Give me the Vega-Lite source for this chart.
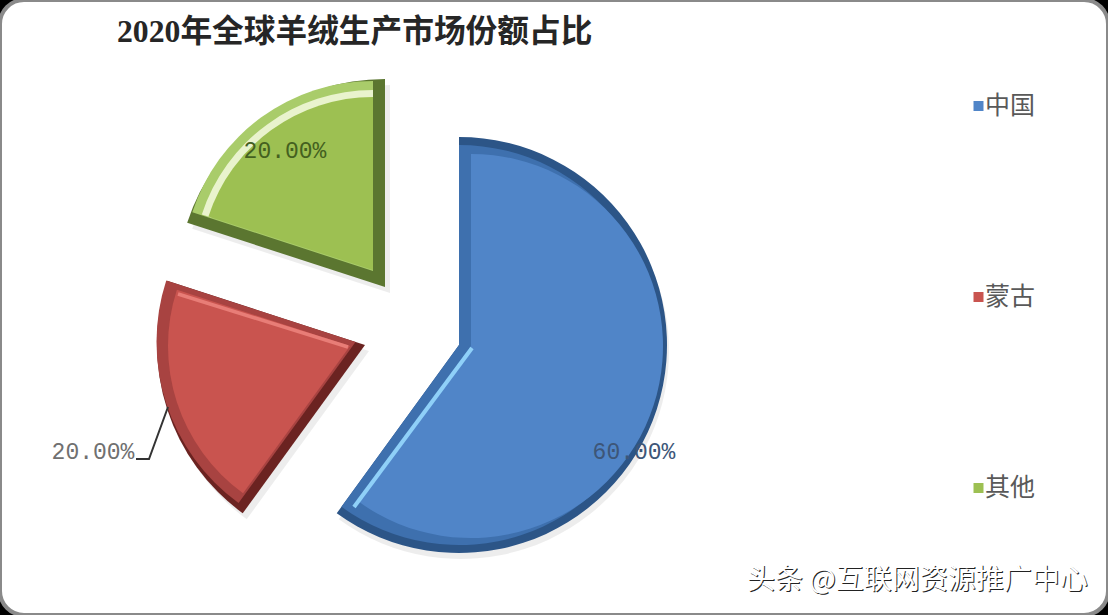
{
  "$schema": "https://vega.github.io/schema/vega-lite/v6.json",
  "width": 1108,
  "height": 615,
  "padding": 0,
  "autosize": "none",
  "background": "#000000",
  "view": {"fill": "#ffffff", "cornerRadius": 24, "stroke": "#8a8a8a", "strokeWidth": 4},
  "title": {
    "text": "2020年全球羊绒生产市场份额占比",
    "anchor": "start",
    "frame": "group",
    "dx": 117,
    "offset": -49,
    "font": "Liberation Serif, Noto Sans CJK SC",
    "fontSize": 31.7,
    "fontWeight": "bold",
    "color": "#262626"
  },
  "layer": [
    {
      "data": {
        "values": [
          {"country": "中国", "share": 60, "label": "60.00%", "order": 1},
          {"country": "蒙古", "share": 20, "label": "20.00%", "order": 2},
          {"country": "其他", "share": 20, "label": "20.00%", "order": 3}
        ]
      },
      "transform": [
        {"stack": "share", "sort": [{"field": "order"}], "groupby": [], "as": ["a0", "a1"]}
      ],
      "resolve": {"scale": {"x": "independent", "y": "independent", "color": "independent", "radius": "independent", "theta": "independent"}},
      "layer": [
        {
          "mark": {"type": "arc", "outerRadius": 208, "color": "#000000", "opacity": 0.07},
          "encoding": {
            "x": {"field": "order", "type": "quantitative", "axis": null, "scale": {"domain": [1, 2, 3], "range": [461, 369, 390]}},
            "y": {"field": "order", "type": "quantitative", "axis": null, "scale": {"domain": [1, 2, 3], "range": [351, 351, 293]}},
            "theta": {"field": "a0", "type": "quantitative", "scale": {"domain": [0, 100], "range": [0, 6.2832]}},
            "theta2": {"field": "a1"}
          }
        },
        {
          "mark": {"type": "arc", "outerRadius": 208},
          "encoding": {
            "x": {"field": "order", "type": "quantitative", "axis": null, "scale": {"domain": [1, 2, 3], "range": [459, 365, 385]}},
            "y": {"field": "order", "type": "quantitative", "axis": null, "scale": {"domain": [1, 2, 3], "range": [345, 345, 287]}},
            "theta": {"field": "a0", "type": "quantitative", "scale": {"domain": [0, 100], "range": [0, 6.2832]}},
            "theta2": {"field": "a1"},
            "color": {"field": "country", "type": "nominal", "legend": null, "scale": {"domain": ["中国", "蒙古", "其他"], "range": ["#2c5587", "#6b2321", "#5b7630"]}}
          }
        },
        {
          "mark": {"type": "arc", "innerRadius": 0},
          "encoding": {
            "x": {"field": "order", "type": "quantitative", "axis": null, "scale": {"domain": [1, 2, 3], "range": [459, 355.5, 373]}},
            "y": {"field": "order", "type": "quantitative", "axis": null, "scale": {"domain": [1, 2, 3], "range": [345, 342, 271]}},
            "theta": {"field": "a0", "type": "quantitative", "scale": {"domain": [0, 100], "range": [0, 6.2832]}},
            "theta2": {"field": "a1"},
            "radius": {"field": "order", "type": "quantitative", "stack": null, "scale": {"type": "linear", "zero": false, "domain": [1, 2, 3], "range": [200, 199, 190]}},
            "color": {"field": "country", "type": "nominal", "legend": null, "scale": {"domain": ["中国", "蒙古", "其他"], "range": ["#3e70ae", "#a84341", "#a9cc6a"]}}
          }
        },
        {
          "transform": [{"filter": "datum.order == 3"}],
          "mark": {"type": "arc", "radius": 180, "radius2": 170, "color": "#e9f3cd"},
          "encoding": {
            "x": {"field": "order", "type": "quantitative", "axis": null, "scale": {"domain": [2, 3], "range": [300, 373]}},
            "y": {"field": "order", "type": "quantitative", "axis": null, "scale": {"domain": [2, 3], "range": [200, 270]}},
            "theta": {"field": "a0", "type": "quantitative", "scale": {"domain": [0, 100], "range": [0, 6.2832]}},
            "theta2": {"field": "a1"}
          }
        },
        {
          "mark": {"type": "arc", "innerRadius": 0},
          "encoding": {
            "x": {"field": "order", "type": "quantitative", "axis": null, "scale": {"domain": [1, 2, 3], "range": [471, 350, 373]}},
            "y": {"field": "order", "type": "quantitative", "axis": null, "scale": {"domain": [1, 2, 3], "range": [346, 346, 270]}},
            "theta": {"field": "a0", "type": "quantitative", "scale": {"domain": [0, 100], "range": [0, 6.2832]}},
            "theta2": {"field": "a1"},
            "radius": {"field": "order", "type": "quantitative", "stack": null, "scale": {"type": "linear", "zero": false, "domain": [1, 2, 3], "range": [192, 182, 173]}},
            "color": {
              "field": "country",
              "type": "nominal",
              "scale": {"domain": ["中国", "蒙古", "其他"], "range": ["#5085c8", "#c9544f", "#9dc052"]},
              "legend": {
                "orient": "none",
                "legendX": 966,
                "legendY": 94,
                "title": null,
                "symbolType": "square",
                "symbolSize": 100,
                "symbolStrokeWidth": 0,
                "clipHeight": 24,
                "rowPadding": 166,
                "labelFont": "Noto Sans CJK SC",
                "labelFontSize": 25,
                "labelColor": "#595959",
                "labelOffset": -6
              }
            }
          }
        },
        {
          "mark": {"type": "text", "font": "Liberation Mono", "fontSize": 23},
          "encoding": {
            "x": {"field": "order", "type": "quantitative", "axis": null, "scale": {"domain": [1, 2, 3], "range": [634, 93, 285]}},
            "y": {"field": "order", "type": "quantitative", "axis": null, "scale": {"domain": [1, 2, 3], "range": [452, 452, 151]}},
            "text": {"field": "label"},
            "color": {"field": "country", "type": "nominal", "legend": null, "scale": {"domain": ["中国", "蒙古", "其他"], "range": ["#3d5678", "#707070", "#44601f"]}}
          }
        }
      ]
    },
    {
      "data": {"values": [{"step": 1}, {"step": 2}]},
      "mark": {"type": "line", "color": "#8fd0f8", "strokeWidth": 4},
      "encoding": {
        "x": {"field": "step", "type": "quantitative", "axis": null, "scale": {"domain": [1, 2], "range": [354, 472]}},
        "y": {"field": "step", "type": "quantitative", "axis": null, "scale": {"domain": [1, 2], "range": [507, 348]}}
      }
    },
    {
      "data": {"values": [{"step": 1}, {"step": 2}]},
      "mark": {"type": "line", "color": "#e87d77", "strokeWidth": 3.5},
      "encoding": {
        "x": {"field": "step", "type": "quantitative", "axis": null, "scale": {"domain": [1, 2], "range": [178, 348]}},
        "y": {"field": "step", "type": "quantitative", "axis": null, "scale": {"domain": [1, 2], "range": [294, 347]}}
      }
    },
    {
      "data": {"values": [{"step": 1}, {"step": 2}, {"step": 3}]},
      "mark": {"type": "line", "color": "#333333", "strokeWidth": 2},
      "encoding": {
        "x": {"field": "step", "type": "quantitative", "axis": null, "scale": {"domain": [1, 2, 3], "range": [136, 149, 168]}},
        "y": {"field": "step", "type": "quantitative", "axis": null, "scale": {"domain": [1, 2, 3], "range": [459, 459, 407]}}
      }
    },
    {
      "data": {"values": [{"mark": "头条 @互联网资源推广中心", "pos": 1}]},
      "mark": {"type": "text", "align": "left", "font": "Noto Sans CJK SC", "fontSize": 28, "color": "#222222", "dx": 1, "dy": 1},
      "encoding": {
        "x": {"field": "pos", "type": "quantitative", "axis": null, "scale": {"domain": [0, 1], "range": [0, 747]}},
        "y": {"field": "pos", "type": "quantitative", "axis": null, "scale": {"domain": [0, 1], "range": [0, 581]}},
        "text": {"field": "mark"}
      }
    },
    {
      "data": {"values": [{"mark": "头条 @互联网资源推广中心", "pos": 1}]},
      "mark": {"type": "text", "align": "left", "font": "Noto Sans CJK SC", "fontSize": 28, "color": "#ffffff"},
      "encoding": {
        "x": {"field": "pos", "type": "quantitative", "axis": null, "scale": {"domain": [0, 1], "range": [0, 747]}},
        "y": {"field": "pos", "type": "quantitative", "axis": null, "scale": {"domain": [0, 1], "range": [0, 581]}},
        "text": {"field": "mark"}
      }
    }
  ],
  "resolve": {"scale": {"x": "independent", "y": "independent"}}
}
